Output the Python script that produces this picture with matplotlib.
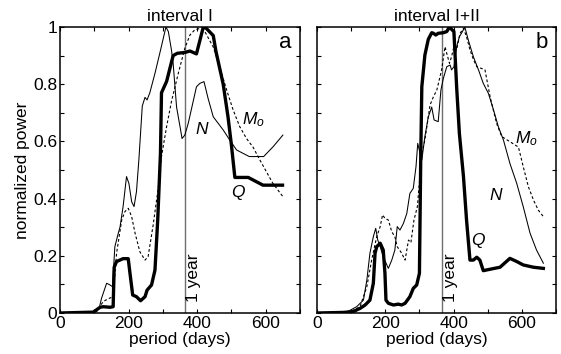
import matplotlib
matplotlib.use("Agg")
import matplotlib.pyplot as plt
from matplotlib.ticker import MultipleLocator

plt.rcParams['font.family'] = ['Liberation Sans', 'DejaVu Sans']
plt.rcParams['mathtext.fontset'] = 'custom'
plt.rcParams['mathtext.rm'] = 'Liberation Sans'
plt.rcParams['mathtext.it'] = 'Liberation Sans:italic'

# ---- Panel a (interval I) ----
a_q_x = [0, 97, 117, 126, 146, 155, 158, 165, 184, 199, 204, 212, 223, 235, 248, 254, 267, 277, 285, 293, 296,
         311, 330, 342, 364, 379, 398, 418, 427, 447, 455, 476, 490, 500, 510, 549, 592, 649]
a_q_y = [0, 0.003, 0.02, 0.022, 0.02, 0.022, 0.16, 0.18, 0.19, 0.19, 0.14, 0.063, 0.057, 0.043, 0.057, 0.08, 0.098,
         0.15, 0.325, 0.558, 0.77, 0.81, 0.90, 0.908, 0.911, 0.916, 0.906, 1.0, 0.995, 0.97, 0.914, 0.80, 0.686,
         0.587, 0.474, 0.474, 0.447, 0.447]

a_n_x = [0, 97, 115, 121, 136, 146, 153, 160, 170, 175, 184, 194, 201, 209, 216, 223, 230, 240, 248, 254, 262,
         277, 291, 309, 316, 325, 330, 340, 350, 356, 364, 374, 386, 398, 408, 420, 432, 447, 476, 495, 515, 552,
         594, 622, 650]
a_n_y = [0, 0.003, 0.02, 0.051, 0.104, 0.098, 0.092, 0.232, 0.279, 0.30, 0.372, 0.477, 0.453, 0.389, 0.372,
         0.424, 0.535, 0.724, 0.754, 0.745, 0.77, 0.838, 0.908, 1.0, 0.984, 0.92, 0.873, 0.72, 0.652, 0.61, 0.622,
         0.663, 0.727, 0.791, 0.803, 0.809, 0.75, 0.686, 0.64, 0.605, 0.57, 0.547, 0.547, 0.582, 0.622]

a_m_x = [0, 107, 126, 141, 155, 165, 180, 189, 199, 209, 219, 233, 248, 257, 272, 287, 296, 311, 325, 345, 364,
         379, 393, 408, 422, 447, 466, 486, 505, 524, 544, 563, 583, 602, 621, 650]
a_m_y = [0, 0.005, 0.04, 0.05, 0.057, 0.209, 0.325, 0.354, 0.366, 0.337, 0.279, 0.214, 0.185, 0.197, 0.31, 0.442,
         0.547, 0.652, 0.739, 0.838, 0.925, 0.972, 0.99, 0.995, 0.985, 0.93, 0.86, 0.78, 0.71, 0.652, 0.61, 0.58,
         0.535, 0.494, 0.453, 0.407]

# ---- Panel b (interval I+II) ----
b_q_x = [0, 77, 106, 126, 141, 155, 165, 170, 175, 185, 194, 199, 202, 209, 224, 238, 248, 258, 272, 282, 292,
         300, 304, 307, 316, 326, 336, 341, 348, 355, 370, 380, 388, 394, 401, 409, 417, 429, 438, 448, 458, 468,
         477, 487, 507, 536, 551, 565, 585, 604, 634, 663]
b_q_y = [0, 0.002, 0.005, 0.016, 0.028, 0.045, 0.104, 0.209, 0.232, 0.244, 0.22, 0.139, 0.045, 0.034, 0.028,
         0.031, 0.028, 0.034, 0.057, 0.086, 0.098, 0.139, 0.558, 0.791, 0.902, 0.957, 0.98, 0.978, 0.972, 0.978,
         0.98, 0.984, 1.0, 0.992, 0.984, 0.79, 0.628, 0.477, 0.325, 0.185, 0.185, 0.195, 0.185, 0.148, 0.153,
         0.16, 0.176, 0.191, 0.18, 0.168, 0.16, 0.156]

b_n_x = [0, 87, 116, 136, 146, 155, 165, 172, 178, 185, 194, 209, 219, 228, 235, 243, 253, 263, 272, 282, 290,
         295, 302, 307, 316, 326, 336, 343, 355, 363, 370, 380, 390, 394, 401, 409, 417, 424, 433, 443, 458, 473,
         487, 502, 517, 531, 546, 565, 585, 604, 624, 643, 663]
b_n_y = [0, 0.003, 0.022, 0.045, 0.115, 0.209, 0.267, 0.296, 0.255, 0.232, 0.197, 0.156, 0.185, 0.22, 0.302,
         0.29, 0.313, 0.348, 0.418, 0.436, 0.512, 0.593, 0.558, 0.535, 0.617, 0.686, 0.72, 0.675, 0.669, 0.78,
         0.82, 0.861, 0.867, 0.85, 0.861, 0.931, 0.966, 0.98, 1.0, 0.955, 0.896, 0.85, 0.803, 0.768, 0.71, 0.652,
         0.605, 0.523, 0.453, 0.372, 0.279, 0.22, 0.174]

b_m_x = [0, 97, 126, 146, 160, 175, 185, 192, 199, 209, 219, 228, 235, 248, 258, 268, 275, 284, 294, 307, 316,
         331, 341, 351, 365, 375, 380, 388, 394, 401, 409, 419, 429, 438, 448, 458, 468, 482, 492, 507, 526, 541,
         565, 590, 604, 619, 634, 648, 663]
b_m_y = [0, 0.004, 0.022, 0.092, 0.185, 0.267, 0.302, 0.343, 0.331, 0.325, 0.284, 0.267, 0.232, 0.209, 0.185,
         0.255, 0.246, 0.325, 0.372, 0.558, 0.605, 0.727, 0.756, 0.78, 0.85, 0.931, 0.908, 0.873, 0.896, 0.931,
         0.92, 0.978, 0.995, 0.966, 0.92, 0.887, 0.861, 0.855, 0.85, 0.756, 0.663, 0.617, 0.599, 0.58, 0.512,
         0.442, 0.395, 0.36, 0.337]

x_ticks = [0, 200, 400, 600]
y_ticks = [0, 0.2, 0.4, 0.6, 0.8, 1]
y_ticklabels = ['0', '0.2', '0.4', '0.6', '0.8', '1']
year = 365

fig = plt.figure(figsize=(5.61, 3.54), dpi=100)
ax_a = fig.add_axes([60/561, 41/354, 240/561, 286/354])
ax_b = fig.add_axes([317/561, 41/354, 239/561, 286/354])

fs = 12.5
panels = [
    (ax_a, a_q_x, a_q_y, a_n_x, a_n_y, a_m_x, a_m_y, 'interval I', 'a',
     {'N': (414, 0.64), 'M': (563, 0.675), 'Q': (519, 0.42)}),
    (ax_b, b_q_x, b_q_y, b_n_x, b_n_y, b_m_x, b_m_y, 'interval I+II', 'b',
     {'N': (522, 0.41), 'M': (614, 0.61), 'Q': (472, 0.255)}),
]

for ax, qx, qy, nx, ny, mx, my, title, letter, lab in panels:
    ax.axvline(year, color='#6e6e6e', lw=1.0, zorder=1)
    ax.plot(mx, my, color='black', lw=0.8, ls=(0, (2.5, 2)), zorder=2)
    ax.plot(nx, ny, color='black', lw=0.75, zorder=3)
    ax.plot(qx, qy, color='black', lw=2.4, zorder=4, solid_joinstyle='round')
    ax.set_xlim(0, 700)
    ax.set_ylim(0, 1)
    ax.set_xticks(x_ticks)
    ax.xaxis.set_minor_locator(MultipleLocator(100))
    ax.yaxis.set_minor_locator(MultipleLocator(0.1))
    ax.set_yticks(y_ticks)
    ax.tick_params(which='both', direction='in', top=True, right=True, length=3, width=0.8,
                   labelsize=fs, pad=2)
    for s in ax.spines.values():
        s.set_linewidth(1.1)
    ax.set_xlabel('period (days)', fontsize=fs, labelpad=1)
    ax.set_title(title, fontsize=fs, pad=4)
    ax.text(0.965, 0.945, letter, transform=ax.transAxes, fontsize=16, ha='right', va='center')
    ax.text(lab['N'][0], lab['N'][1], 'N', fontsize=fs, style='italic', ha='center', va='center')
    ax.text(lab['M'][0], lab['M'][1], r'$M_o$', fontsize=fs, ha='center', va='center')
    ax.text(lab['Q'][0], lab['Q'][1], 'Q', fontsize=fs, style='italic', ha='center', va='center')
    ax.text(year + 3, 0.04, '1 year', rotation=90, fontsize=fs, ha='left', va='bottom')

ax_a.set_yticklabels(y_ticklabels)
ax_a.set_ylabel('normalized power', fontsize=fs, labelpad=2)
ax_b.set_yticklabels([])

fig.savefig('out.png', dpi=100)
